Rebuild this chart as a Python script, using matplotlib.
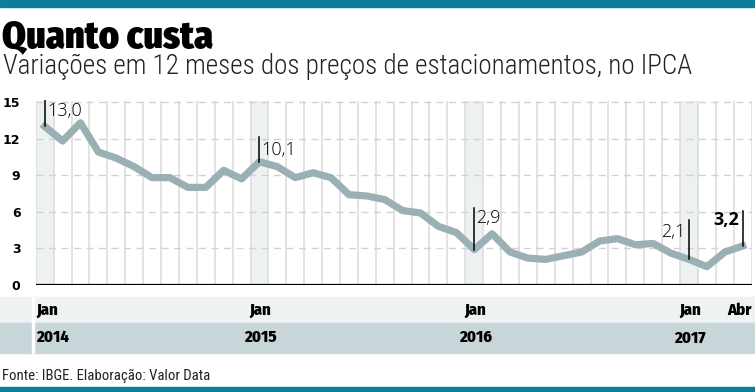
import numpy as np
import matplotlib
matplotlib.use('Agg')
import matplotlib.pyplot as plt
from matplotlib.transforms import blended_transform_factory

# variação em 12 meses, jan/2014 a abr/2017
valores = [13.0, 11.8, 13.3, 10.9, 10.4, 9.7, 8.8, 8.8, 8.0, 8.0, 9.4, 8.7,
           10.1, 9.7, 8.8, 9.2, 8.8, 7.4, 7.3, 7.0, 6.1, 5.9, 4.8, 4.3,
           2.9, 4.2, 2.7, 2.2, 2.1, 2.4, 2.7, 3.6, 3.8, 3.3, 3.4, 2.6,
           2.1, 1.5, 2.7, 3.2]
meses = np.arange(len(valores))
jan_idx = [0, 12, 24, 36]
anos = ['2014', '2015', '2016', '2017']
yticks = [0, 3, 6, 9, 12, 15]
destaques = [0, 12, 24, 36, 39]  # pontos com rótulo

TEAL = '#0b7f9a'
LINHA = '#9bb0b5'
COND = ['Roboto Condensed', 'DejaVu Sans']
FIRA = ['Fira Sans Condensed', 'Roboto Condensed', 'DejaVu Sans']

fig = plt.figure(figsize=(7.55, 3.92), dpi=100)
ax = fig.add_axes([0.0473, 0.2730, 0.9483, 0.4730])

# colunas de janeiro e grade
for j in jan_idx:
    ax.fill_between([j - 0.5, j + 0.5], 0, 15.1, color='#eef1f2', lw=0, zorder=0)
ax.vlines(np.arange(-0.5, len(valores)), 0, 15.1, color='#dedede', lw=1.2, zorder=1)
for v in yticks[1:]:
    ax.plot([-0.5, len(valores) - 0.5], [v, v], color='#d2d2d2', lw=1,
            dashes=(5, 4), zorder=1)
ax.axhline(0, color='black', lw=1.6, zorder=4)

ax.plot(meses, valores, color=LINHA, lw=5.2, zorder=3)

# rótulos
topo = {0: 15.2, 12: 12.1, 24: 6.3, 36: 5.3, 39: 6.1}
pos_txt = {0: (0.12, 14.3, 'left'), 12: (12.12, 11.1, 'left'), 24: (24.12, 5.5, 'left'),
           36: (35.8, 4.35, 'right'), 39: (38.8, 5.3, 'right')}
for i in destaques:
    ax.plot([i, i], [valores[i], topo[i]], color='black', lw=1.1, zorder=5)
    x, y, ha = pos_txt[i]
    txt = f'{valores[i]:.1f}'.replace('.', ',')
    ax.text(x, y, txt, ha=ha, va='center', fontsize=13,
            fontweight='bold' if i == 39 else 'light',
            family=['Open Sans', 'DejaVu Sans'], color='black', zorder=6)

ax.set_xlim(-0.5, len(valores) - 0.5)
ax.set_ylim(0, 15.2)
ax.set_yticks(yticks)
ax.set_yticklabels([str(v) for v in yticks], fontweight='bold', fontsize=9)
ax.tick_params(axis='y', length=0, pad=11)
ax.set_xticks([])
for s in ax.spines.values():
    s.set_visible(False)

# faixas do eixo de tempo
fig.patches.append(plt.Rectangle((0, 0.176), 1, 0.0663, transform=fig.transFigure,
                                 color='#eef2f3', zorder=-2))
fig.patches.append(plt.Rectangle((0, 0.0995), 1, 0.0765, transform=fig.transFigure,
                                 color='#c8d5d9', zorder=-2))
fig.patches.append(plt.Rectangle((0.0425, 0.0995), 0.003, 0.1428, transform=fig.transFigure,
                                 color='white', zorder=-1))
tr = blended_transform_factory(ax.transData, fig.transFigure)
for k, j in enumerate(jan_idx):
    ha = 'left' if j == 0 else 'center'
    x = j - 0.45 if j == 0 else j + 0.05
    ax.text(x, 0.209, 'Jan', transform=tr, ha=ha, va='center', fontsize=12,
            fontweight='heavy', family=FIRA, clip_on=False)
    ax.text(x, 0.138, anos[k], transform=tr, ha=ha, va='center', fontsize=12,
            fontweight='heavy', family=FIRA, clip_on=False)
ax.text(39.5, 0.209, 'Abr', transform=tr, ha='right', va='center', fontsize=12,
        fontweight='heavy', family=FIRA, clip_on=False)

# barras de cor
fig.patches.append(plt.Rectangle((0, 0.982), 1, 0.018, transform=fig.transFigure,
                                 color=TEAL, zorder=2))
fig.patches.append(plt.Rectangle((0, 0), 1, 0.0128, transform=fig.transFigure,
                                 color=TEAL, zorder=2))

titulo = fig.text(0.003, 0.880, 'Quanto custa', fontsize=28, fontweight='black',
                  family=FIRA, va='baseline')
sub = fig.text(0.004, 0.812, 'Variações em 12 meses dos preços de estacionamentos, no IPCA',
               fontsize=16, fontweight='light', family=COND, va='baseline', color='#222222')
fonte = fig.text(0.003, 0.0306, 'Fonte: IBGE. Elaboração: Valor Data', fontsize=9,
                 family=COND, va='baseline', color='#222222')

# ajusta tamanho das fontes à largura do original (título limitado pela altura)
r = fig.canvas.get_renderer()
for t, w, limite in [(titulo, 238, 27.5), (sub, 687, 40), (fonte, 210, 20)]:
    t.set_fontsize(min(limite, t.get_fontsize() * w / t.get_window_extent(r).width))

fig.savefig('out.png', dpi=100)
